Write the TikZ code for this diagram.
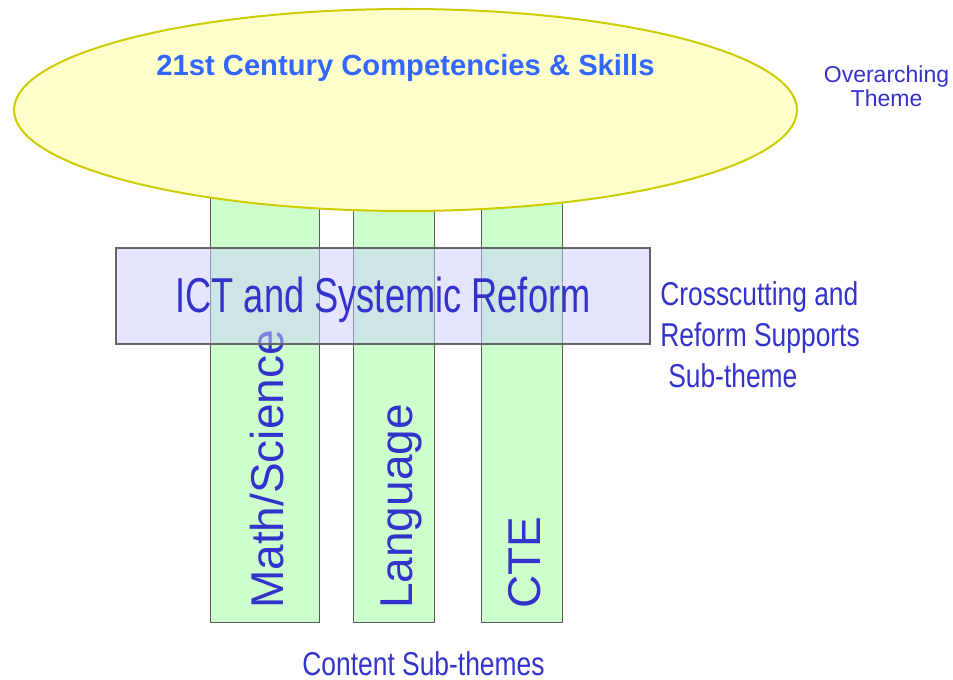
\documentclass[tikz,border=0pt]{standalone}
\usepackage{fontspec}
\setmainfont{Liberation Sans}
\newfontfamily\narrowfont[FakeStretch=0.74]{Liberation Sans}
\newfontfamily\subfont[FakeStretch=0.8]{Liberation Sans}
\usetikzlibrary{shapes.geometric}
\definecolor{themeblue}{HTML}{3333CC}
\definecolor{titleblue}{HTML}{3366FF}
\definecolor{ovalfill}{HTML}{FFFFCC}
\definecolor{ovalline}{HTML}{CCCC00}
\definecolor{colfill}{HTML}{CCFFCC}
\definecolor{barfill}{HTML}{CCCCFF}
\tikzset{
	pillar/.style={draw=black!65,fill=colfill,line width=0.75pt}
}
\tikzset{
	pillartext/.style={rotate=90,anchor=base west,inner sep=0,text=themeblue,font=\fontsize{34.5}{40}\selectfont}
}
\tikzset{
	label/.style={inner sep=0,text=themeblue}
}

\begin{document}
\begin{tikzpicture}[x=0.75pt,y=-0.75pt]
	\useasboundingbox (0,0) rectangle (953,680);
	% content sub-themes
	\draw[pillar] (210,190) rectangle (319,622);
	\draw[pillar] (353,190) rectangle (434,622);
	\draw[pillar] (481,190) rectangle (562,622);
	\node[pillartext] (math) at (283,609) {Math/Science};
	\node[pillartext] (lang) at (412,609) {Language};
	\node[pillartext] (cte) at (540,609) {CTE};
	% crosscutting bar
	\fill[barfill,fill opacity=.5] (116,248) rectangle (650,344);
	\draw[black!60,line width=1pt] (116,248) rectangle (650,344);
	\node[label,anchor=base,font=\narrowfont\fontsize{36.75}{44}\selectfont] (ict) at (383,313) {ICT and Systemic Reform};
	% overarching theme
	\draw[draw=ovalline,fill=ovalfill,line width=1.5pt] (405.5,110) ellipse [x radius=293.6pt,y radius=75.75pt];
	\node[label,text=titleblue,anchor=base,font=\bfseries\fontsize{21.9}{26}\selectfont] (title) at (405.5,76) {21st Century Competencies \& Skills};
	\node[label,anchor=north,align=center,font=\fontsize{17.25}{18}\selectfont] (over) at (886.5,66) {Overarching\\Theme};
	\node[label,anchor=north west,align=left,font=\subfont\fontsize{24.75}{30.75}\selectfont] (cross) at (660,281) {Crosscutting and\\Reform Supports\\\hspace{6pt}Sub-theme};
	\node[label,anchor=base,font=\subfont\fontsize{24.75}{30}\selectfont] (content) at (423.5,675) {Content Sub-themes};
\end{tikzpicture}
\end{document}
